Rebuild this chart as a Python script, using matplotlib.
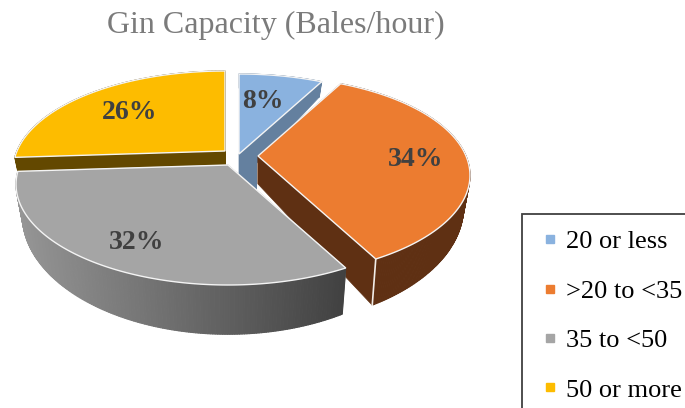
import numpy as np
import matplotlib
matplotlib.use("Agg")
import matplotlib.pyplot as plt
from matplotlib.collections import PolyCollection
from matplotlib.lines import Line2D
from matplotlib.patches import Polygon

plt.rcParams["font.family"] = ["Liberation Serif", "DejaVu Serif"]

categories = ["20 or less", ">20 to <35", "35 to <50", "50 or more"]
values = [8, 34, 32, 26]
title = "Gin Capacity (Bales/hour)"

top_colors = ["#8AB2DF", "#EC7C30", "#A5A5A5", "#FDBC00"]
side_colors = ["#64809F", "#5F3013", "#8C8C8C", "#634800"]
# slice corners in pixels (exploded pie)
corners = [(239, 154), (258, 156), (228, 165), (225, 151)]
label_r = [0.6, 0.76, 0.78, 0.7]
label_shift = [(-4, -1), (0, 4), (-3, 0), (1, 5)]

RX, RY = 208, 100
DEPTH = 28


def project(theta, r=1.0, bottom=False):
    # tilted disc with some perspective, theta clockwise from 12 o'clock
    x = r * np.sin(theta)
    y = r * np.cos(theta)
    s = 1 - 0.2 * y
    sx = RX * x * s
    sy = -RY * y * s
    if bottom:
        sx = sx * 0.97
        sy = sy + DEPTH * s ** 3.1
    return sx, sy


fig = plt.figure(figsize=(6.85, 4.08), dpi=100)
ax = fig.add_axes([0, 0, 1, 1])
ax.set_xlim(0, 685)
ax.set_ylim(408, 0)
ax.axis("off")

edges = np.radians(np.cumsum([0] + values) * 3.6)

# back to front
for i in [3, 0, 1, 2]:
    cx, cy = corners[i]
    t = np.linspace(edges[i], edges[i + 1], 200)
    xt, yt = project(t)
    xb, yb = project(t, bottom=True)
    xt, yt, xb, yb = xt + cx, yt + cy, xb + cx, yb + cy

    # cut faces
    bx, by = project(0.0, 0.0, bottom=True)
    for k in [0, -1]:
        face = [(cx, cy), (xt[k], yt[k]), (xb[k], yb[k]), (cx + bx, cy + by)]
        ax.add_patch(Polygon(face, closed=True, fc=side_colors[i], ec=side_colors[i], lw=0.5))
    if i == 0:
        # blue face runs on down behind the orange and grey slices
        ax.fill_between([cx, cx + 18], cy, cy + DEPTH + 8, color=side_colors[i], lw=0)

    # rim, grey one has a left to right gradient
    quads = []
    cols = []
    for k in range(len(t) - 1):
        quads.append([(xt[k], yt[k]), (xt[k + 1], yt[k + 1]), (xb[k + 1], yb[k + 1]), (xb[k], yb[k])])
        if i == 2:
            f = (xt[k] - 15) / (347 - 15)
            g = (150 - 85 * f) / 255
            cols.append((g, g, g))
        else:
            cols.append(side_colors[i])
    ax.add_collection(PolyCollection(quads, facecolors=cols, edgecolors=cols, linewidths=0.8))

    if i == 1:
        ax.plot([xt[-1], xb[-1]], [yt[-1], yb[-1]], color="#F2EDE8", lw=1.2)

    # top face
    pts = np.column_stack([np.r_[cx, xt], np.r_[cy, yt]])
    ax.add_patch(Polygon(pts, closed=True, fc=top_colors[i], ec="#F4F4F4", lw=1.0))

    # percent label
    mid = (edges[i] + edges[i + 1]) / 2
    lx, ly = project(mid, label_r[i])
    ax.text(cx + lx + label_shift[i][0], cy + ly + label_shift[i][1], "%d%%" % values[i],
            ha="center", va="center", fontsize=20, fontweight="bold", color="#404040")

ax.text(276, 25, title, ha="center", va="center", fontsize=23, color="#7B7B7B")

handles = [Line2D([], [], ls="none", marker="s", ms=5.8, mfc=c, mec=c) for c in top_colors]
leg = ax.legend(handles, categories, loc="upper left", bbox_to_anchor=(522, 214),
                bbox_transform=ax.transData, prop={"size": 19}, frameon=True, fancybox=False,
                framealpha=1, edgecolor="#404040", borderpad=0.6, handlelength=0.92,
                handletextpad=0.14, labelspacing=0.985, borderaxespad=0)
leg.get_frame().set_linewidth(1.3)
leg.set_clip_on(False)

fig.savefig("out.png", dpi=100)
